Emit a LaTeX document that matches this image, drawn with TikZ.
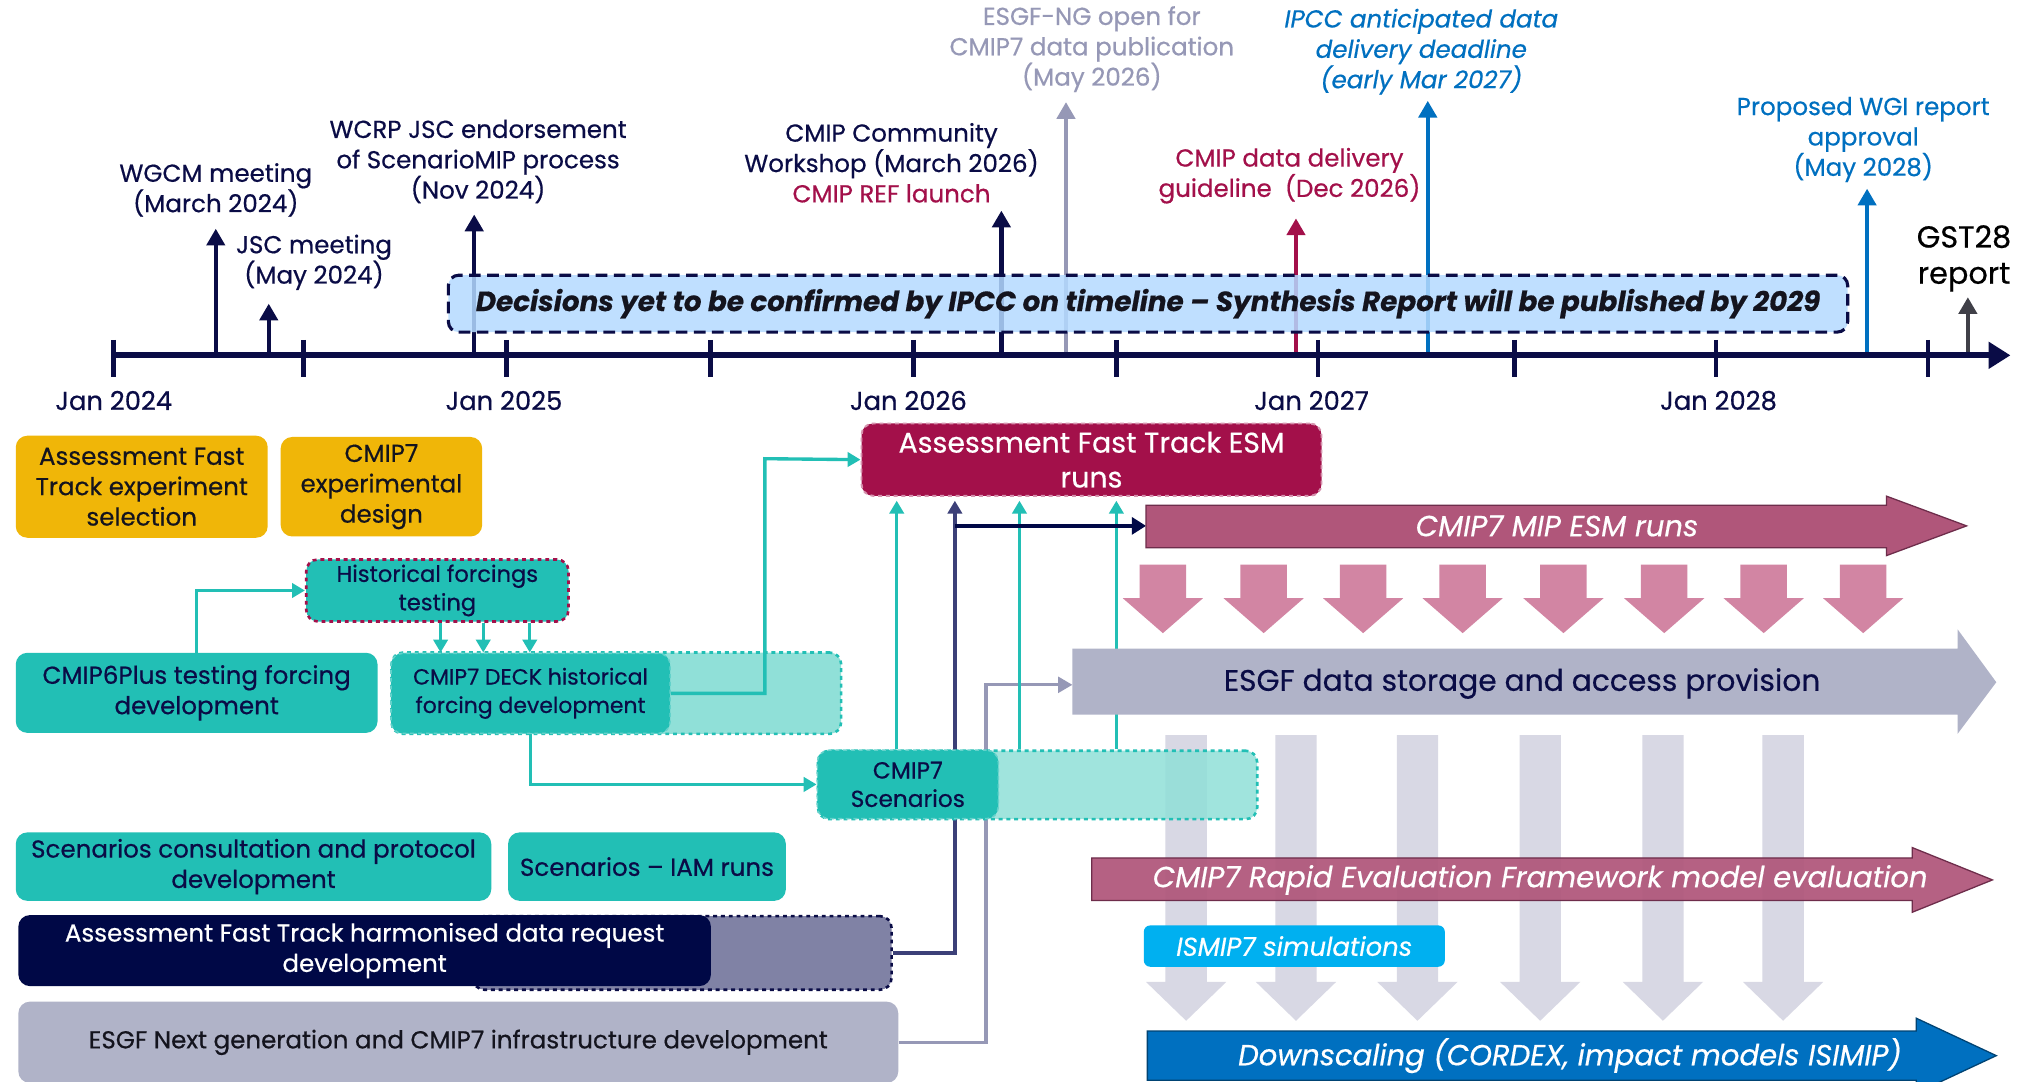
\documentclass[tikz,border=0pt]{standalone}
\usepackage{fontspec}
\setmainfont{Poppins}[FakeBold=0.5]
\usetikzlibrary{arrows.meta,calc}
\pgfdeclarelayer{bg}
\pgfsetlayers{bg,main}
\definecolor{navy}{RGB}{10,12,70}
\definecolor{crim}{RGB}{163,16,74}
\definecolor{ngray}{RGB}{150,152,182}
\definecolor{ipblue}{RGB}{0,112,192}
\definecolor{gstgray}{RGB}{64,64,72}
\definecolor{decfill}{RGB}{180,218,255}
\definecolor{orng}{RGB}{240,182,8}
\definecolor{tealc}{RGB}{34,191,181}
\definecolor{tealL}{RGB}{144,224,216}
\definecolor{drqc}{RGB}{0,8,70}
\definecolor{drqL}{RGB}{128,130,165}
\definecolor{lav}{RGB}{176,179,200}
\definecolor{rose}{RGB}{176,86,122}
\definecolor{roseD}{RGB}{110,45,75}
\definecolor{pinkA}{RGB}{210,133,163}
\definecolor{grayA}{RGB}{216,216,228}
\definecolor{cyanI}{RGB}{0,176,240}
\definecolor{slate}{RGB}{60,64,120}
\definecolor{txtblk}{RGB}{20,20,30}
\newcommand\myfs[2]{\fontsize{#1}{#2}\selectfont}
\begin{document}
\begin{tikzpicture}[x=1pt,y=-1pt,
  lbl/.style={align=center, inner sep=0pt, font=\myfs{19}{23.5}},
  yr/.style={inner sep=0pt, font=\myfs{20}{24}, text=navy},
  evarr/.style={line width=3.4pt, -{Triangle[width=14pt,length=13pt]}},
  box/.style={rounded corners=9pt, align=center, inner sep=2pt, anchor=north west, font=\myfs{19}{23.5}, text=navy},
  tconn/.style={draw=tealc, line width=2.6pt, -{Triangle[width=11pt,length=10pt]}},
  dconn/.style={draw=slate, line width=2.6pt, -{Triangle[width=11pt,length=10pt]}},
  nconn/.style={draw=drqc, line width=3.6pt, -{Triangle[width=13pt,length=11pt]}},
  gconn/.style={draw=ngray, line width=2.6pt, -{Triangle[width=12pt,length=11pt]}},
  atext/.style={inner sep=0pt, font=\myfs{22.5}{27}\itshape, text=white}
]
\useasboundingbox (0,0) rectangle (1568,837);
\begin{pgfonlayer}{bg}
\fill[white] (0,0) rectangle (1568,837);
\end{pgfonlayer}

% ---------- event arrows ----------
\coordinate (b1) at (167,275); \coordinate (t1) at (167,177);
\coordinate (b2) at (208,275); \coordinate (t2) at (208,235);
\coordinate (b3) at (367,275); \coordinate (t3) at (367,166);
\coordinate (b4) at (775,275); \coordinate (t4) at (775,163);
\coordinate (b5) at (825,277); \coordinate (t5) at (825,79);
\coordinate (b6) at (1003,275); \coordinate (t6) at (1003,169);
\coordinate (b7) at (1105,275); \coordinate (t7) at (1105,78);
\coordinate (b8) at (1445,275); \coordinate (t8) at (1445,146);
\coordinate (b9) at (1523,275); \coordinate (t9) at (1523,230);
\draw[evarr, navy] (b1) -- (t1);
\draw[evarr, navy] (b2) -- (t2);
\draw[evarr, navy] (b3) -- (t3);
\draw[evarr, navy] (b4) -- (t4);
\draw[evarr, ngray] (b5) -- (t5);
\draw[evarr, crim] (b6) -- (t6);
\draw[evarr, ipblue] (b7) -- (t7);
\draw[evarr, ipblue] (b8) -- (t8);
\draw[evarr, gstgray] (b9) -- (t9);

% ---------- decisions box ----------
\node[draw=navy, dash pattern=on 9pt off 5pt, line width=2.4pt, fill=decfill, fill opacity=0.85, text opacity=1,
      rounded corners=8pt, minimum width=1083, minimum height=44, inner sep=0pt,
      font=\myfs{21.5}{25}\bfseries\itshape, text=txtblk] (dec) at (888.5,235)
  {Decisions yet to be confirmed by IPCC on timeline -- Synthesis Report will be published by 2029};

% ---------- axis ----------
\coordinate (ax0) at (88,275); \coordinate (ax1) at (1556,275);
\draw[navy, line width=4.5pt, -{Triangle[width=20pt,length=17pt]}] (ax0) -- (ax1);
\foreach \tx in {88,235,392,550,707,864,1020,1172,1328,1492}
  \draw[navy, line width=3.6pt] (\tx,263) -- (\tx,292);

% ---------- labels ----------
\node[lbl, text=navy] (wgcm) at (167,147) {WGCM meeting\\(March 2024)};
\node[lbl, text=navy] (jsc) at (243,203) {JSC meeting\\(May 2024)};
\node[lbl, text=navy] (wcrp) at (370,125) {WCRP JSC endorsement\\of ScenarioMIP process\\(Nov 2024)};
\node[lbl, text=navy] (ws) at (690,126) {CMIP Community\\Workshop (March 2026)\\\textcolor{crim}{CMIP REF launch}};
\node[lbl, text=ngray] (ng) at (845,38) {ESGF-NG open for\\CMIP7 data publication\\(May 2026)};
\node[lbl, text=crim] (dd) at (998,136) {CMIP data delivery\\guideline\ \ (Dec 2026)};
\node[lbl, text=ipblue, font=\myfs{19}{23.5}\itshape] (ip) at (1100,40) {IPCC anticipated data\\delivery deadline\\(early Mar 2027)};
\node[lbl, text=ipblue] (wgi) at (1442,108) {Proposed WGI report\\approval\\(May 2028)};
\node[lbl, text=black, font=\myfs{23.5}{28}] (gst) at (1520,200) {GST28\\report};

\node[yr] (y24) at (88,310) {Jan 2024};
\node[yr] (y25) at (390,310) {Jan 2025};
\node[yr] (y26) at (703,310) {Jan 2026};
\node[yr] (y27) at (1015,310) {Jan 2027};
\node[yr] (y28) at (1330,310) {Jan 2028};

% ---------- boxes ----------
\node[box, fill=orng, text=txtblk, minimum width=195, minimum height=79] (afts) at (12,337) {Assessment Fast\\Track experiment\\selection};
\node[box, fill=orng, text=txtblk, minimum width=156, minimum height=77] (ced) at (217,338) {CMIP7\\experimental\\design};

\node[box, fill=crim, draw=white!55!crim, dashed, line width=1.5pt, text=white, font=\myfs{22}{27}, minimum width=356, minimum height=56] (esm) at (666,327) {Assessment Fast Track ESM\\runs};

\node[box, fill=tealc, draw=crim, dashed, line width=2pt, font=\myfs{17.5}{22}, minimum width=203, minimum height=48] (hist) at (236,432) {Historical forcings\\testing};

\node[box, fill=tealc, minimum width=280, minimum height=62] (c6p) at (12,505) {CMIP6Plus testing forcing\\development};

\node[box, fill=tealL, draw=tealc, dashed, line width=2pt, minimum width=348, minimum height=63] (deckx) at (302,504) {};
\node[box, fill=tealc, draw=tealc!70!white, dashed, line width=1.2pt, font=\myfs{17}{22}, minimum width=216, minimum height=62] (deck) at (302,505) {CMIP7 DECK historical\\forcing development};

\node[box, fill=tealL, fill opacity=0.85, draw=tealc, draw opacity=1, dashed, line width=2pt, minimum width=340, minimum height=53] (scenx) at (632,580) {};
\node[box, fill=tealc, draw=tealc!70!white, dashed, line width=1.2pt, font=\myfs{18}{22}, minimum width=140, minimum height=53] (scen) at (632,580) {CMIP7\\Scenarios};

\node[box, fill=tealc, minimum width=368, minimum height=53] (scons) at (12,644) {Scenarios consultation and protocol\\development};
\node[box, fill=tealc, minimum width=215, minimum height=53] (siam) at (393,644) {Scenarios -- IAM runs};

\node[box, fill=drqL, draw=navy, dashed, line width=2pt, minimum width=324, minimum height=57] (drqx) at (365,708) {};
\node[box, fill=drqc, text=white, minimum width=536, minimum height=55] (drq) at (14,708) {Assessment Fast Track harmonised data request\\development};

\node[box, fill=lav, text=txtblk, minimum width=681, minimum height=63] (esgfng) at (14,775) {ESGF Next generation and CMIP7 infrastructure development};

\node[box, fill=cyanI, text=white, rounded corners=5pt, font=\myfs{20}{24}\itshape, minimum width=233, minimum height=32] (ismip) at (885,716) {ISMIP7 simulations};

% ---------- background layer: gray arrows and under-box connectors ----------
\coordinate (dx) at (739,0);
\coordinate (gturn) at (763,530);
\coordinate (storL) at (830,530);
\begin{pgfonlayer}{bg}
\foreach \cx in {918,1003,1097,1192,1287,1380}
  \fill[grayA] (\cx-16,569) -- (\cx+16,569) -- (\cx+16,760) -- (\cx+31,760) -- (\cx,790) -- (\cx-31,760) -- (\cx-16,760) -- cycle;
\draw[dconn, shorten >=3pt] (drqx.east) -| (esm.south -| dx);
\draw[gconn] (esgfng.east) -| (gturn) -- (storL);
\end{pgfonlayer}

% ---------- teal connectors ----------
\coordinate (hx1) at (341,0); \coordinate (hx2) at (374,0); \coordinate (hx3) at (410,0);
\draw[tconn] (c6p.north) |- (hist.west);
\draw[tconn] (hist.south -| hx1) -- (deck.north -| hx1);
\draw[tconn] (hist.south -| hx2) -- (deck.north -| hx2);
\draw[tconn] (hist.south -| hx3) -- (deck.north -| hx3);
\coordinate (turn1) at (592,355);
\draw[tconn] (deck.east) -| (turn1) -- (esm.west);
\draw[tconn] (deck.south) |- (scen.west);
\coordinate (sx1) at (694,0); \coordinate (sx2) at (789,0); \coordinate (sx3) at (864,0);
\draw[tconn, shorten >=3pt] (scen.north -| sx1) -- (esm.south -| sx1);
\draw[tconn, shorten >=3pt] (scenx.north -| sx2) -- (esm.south -| sx2);
\draw[tconn, shorten >=3pt] (scenx.north -| sx3) -- (esm.south -| sx3);
\coordinate (dj) at (739,407); \coordinate (mipL) at (887,407);
\draw[nconn] (dj) -- (mipL);

% ---------- big arrows ----------
\filldraw[fill=rose, draw=roseD, line width=1pt] (887,391) -- (1460,391) -- (1460,384) -- (1522,407) -- (1460,430) -- (1460,424) -- (887,424) -- cycle;
\node[atext] (mipt) at (1205,407) {CMIP7 MIP ESM runs};

\foreach \cx in {900,978,1055,1132,1210,1288,1365,1442}
  \fill[pinkA] (\cx-18,437) -- (\cx+18,437) -- (\cx+18,463) -- (\cx+31,463) -- (\cx,490) -- (\cx-31,463) -- (\cx-18,463) -- cycle;

\fill[lav] (830,502) -- (1515,502) -- (1515,487) -- (1545,528) -- (1515,568) -- (1515,553) -- (830,553) -- cycle;
\node[inner sep=0pt, font=\myfs{23}{27}, text=navy] (stor) at (1178,529) {ESGF data storage and access provision};

\filldraw[fill=rose, fill opacity=0.93, draw=roseD, line width=1pt] (845,664) -- (1480,664) -- (1480,656) -- (1542,681) -- (1480,706) -- (1480,697) -- (845,697) -- cycle;
\node[atext] (reft) at (1192,681) {CMIP7 Rapid Evaluation Framework model evaluation};

\filldraw[fill=ipblue, draw=ipblue!60!black, line width=1pt] (888,798) -- (1483,798) -- (1483,788) -- (1545,817) -- (1483,846) -- (1483,836) -- (888,836) -- cycle;
\node[atext] (dst) at (1215,817) {Downscaling (CORDEX, impact models ISIMIP)};
\end{tikzpicture}
\end{document}
